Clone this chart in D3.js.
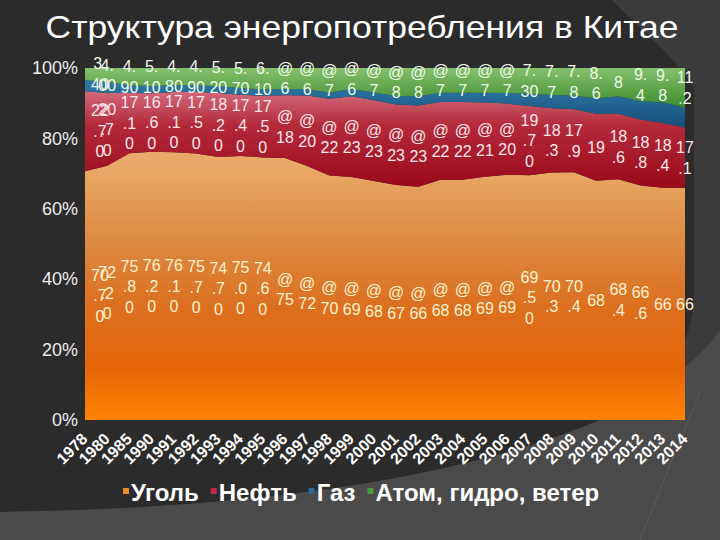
<!DOCTYPE html>
<html>
<head>
<meta charset="utf-8">
<script src="https://cdn.jsdelivr.net/npm/d3@7"></script>
<style>
  body { margin: 0; background: #2b2b2b; }
  svg { display: block; font-family: "Liberation Sans", Arial, sans-serif; }
</style>
</head>
<body>
<div id="chart"></div>
<script>
// Data
const years = ["1978", "1980", "1985", "1990", "1991", "1992", "1993", "1994", "1995", "1996",
  "1997", "1998", "1999", "2000", "2001", "2002", "2003", "2004", "2005", "2006",
  "2007", "2008", "2009", "2010", "2011", "2012", "2013", "2014"]
const coal = [70.7, 72.2, 75.8, 76.2, 76.1, 75.7, 74.7, 75.0, 74.6, 75,
  72, 70, 69, 68, 67, 66, 68, 68, 69, 69,
  69.5, 70.3, 70.4, 68, 68.4, 66.6, 66, 66]
const oil = [22.7, 20.7, 17.1, 16.6, 17.1, 17.5, 18.2, 17.4, 17.5, 18,
  20, 22, 23, 23, 23, 23, 22, 22, 21, 20,
  19.7, 18.3, 17.9, 19, 18.6, 18.8, 18.4, 17.1]
const gas = [3.2, 3.1, 2.2, 2.1, 2.0, 1.9, 1.9, 1.9, 1.8, 1.8,
  1.8, 1.8, 2.0, 2.2, 2.4, 2.6, 2.6, 2.6, 2.8, 3.0,
  3.5, 3.7, 3.9, 4.4, 5.0, 5.2, 5.8, 5.7]
const hydro = [3.4, 4.0, 4.9, 5.1, 4.8, 4.9, 5.2, 5.7, 6.1, 6,
  6, 7, 6, 7, 8, 8, 7, 7, 7, 7,
  7.3, 7.7, 7.8, 8.6, 8, 9.4, 9.8, 11.2]
// how the data labels of each year are written in the picture
const labelKind = ["f2", "f2", "f2", "f2", "f2", "f2", "f2", "f2", "f2",
  "at", "at", "at", "at", "at", "at", "at", "at", "at", "at", "at",
  "f2", "g", "g", "g", "g", "g", "g", "g"]
const seriesKeys = ["coal", "oil", "gas", "hydro"]
const seriesNames = ["Уголь", "Нефть", "Газ", "Атом, гидро, ветер"]
const yTicks = [0, 0.2, 0.4, 0.6, 0.8, 1]
const title = "Структура энергопотребления в Китае"

const table = years.map((y, i) => ({
  year: y, coal: coal[i], oil: oil[i], gas: gas[i], hydro: hydro[i], kind: labelKind[i]
}))

// Dimensions
const dimensions = {
  width: 720,
  height: 540,
  left: 85,
  right: 685,
  top: 68,
  bottom: 420,
}

const svg = d3.select('#chart')
  .append('svg')
  .attr('width', dimensions.width)
  .attr('height', dimensions.height)

// Background (presentation theme)
svg.append('rect')
  .attr('width', dimensions.width)
  .attr('height', dimensions.height)
  .attr('fill', '#2b2b2b')

svg.append('path')
  .attr('d', 'M612,0 L720,0 L720,540 L0,540 L0,512 C250,508 450,482 600,420 C650,398 690,360 694,300 L694,90 C680,60 640,30 612,0 Z')
  .attr('fill', '#3b3b3b')

svg.append('path')
  .attr('d', 'M0,512 C250,508 450,482 600,420 C650,398 700,360 720,330 L720,540 L0,540 Z')
  .attr('fill', '#4a4a4a')

svg.append('path')
  .attr('d', 'M700,392 C680,440 660,490 640,540')
  .attr('fill', 'none')
  .attr('stroke', '#5a5a5a')
  .attr('stroke-width', 1)

// Gradients
const defs = svg.append('defs')
const gradients = {
  coal: { user: true, y1: 165, y2: 420, stops: [[0, '#eaa968'], [0.3, '#dc8a42'], [0.55, '#dc7020'], [0.8, '#e66608'], [1, '#ff8400']] },
  oil: { stops: [[0, '#d26a7a'], [0.35, '#b42a3a'], [1, '#990a1a']] },
  gas: { stops: [[0, '#2f7aa6'], [1, '#14507a']] },
  hydro: { stops: [[0, '#86c06c'], [1, '#3c8a2e']] },
}
Object.entries(gradients).forEach(([key, g]) => {
  const lg = defs.append('linearGradient')
    .attr('id', 'grad-' + key)
    .attr('x1', 0).attr('x2', 0)
  if (g.user) {
    lg.attr('gradientUnits', 'userSpaceOnUse').attr('y1', g.y1).attr('y2', g.y2)
  } else {
    lg.attr('y1', 0).attr('y2', 1)
  }
  g.stops.forEach(s => lg.append('stop').attr('offset', s[0]).attr('stop-color', s[1]))
})

// Scales
const xScale = d3.scalePoint()
  .domain(years)
  .range([dimensions.left, dimensions.right])

const yScale = d3.scaleLinear()
  .domain([0, 1])
  .range([dimensions.bottom, dimensions.top])

// Stack
const stack = d3.stack()
  .keys(seriesKeys)
  .offset(d3.stackOffsetExpand)
const series = stack(table)

const areaGenerator = d3.area()
  .x(d => xScale(d.data.year))
  .y0(d => yScale(d[0]))
  .y1(d => yScale(d[1]))

svg.append('g')
  .selectAll('path')
  .data(series)
  .join('path')
  .attr('d', areaGenerator)
  .attr('fill', d => `url(#grad-${d.key})`)

// Axes
const yAxis = d3.axisLeft(yScale)
  .tickValues(yTicks)
  .tickFormat(d3.format('.0%'))
  .tickSize(0)
  .tickPadding(7)

const yAxisGroup = svg.append('g')
  .attr('transform', `translate(${dimensions.left}, 0)`)
  .call(yAxis)
yAxisGroup.select('.domain').remove()
yAxisGroup.selectAll('text')
  .attr('fill', '#ececec')
  .style('font-size', '18px')
  .style('font-family', '"Liberation Sans", Arial, sans-serif')

const xAxis = d3.axisBottom(xScale).tickSize(0)
const xAxisGroup = svg.append('g')
  .attr('transform', `translate(0, ${dimensions.bottom})`)
  .call(xAxis)
xAxisGroup.select('.domain').remove()
xAxisGroup.selectAll('text')
  .attr('fill', '#ffffff')
  .attr('text-anchor', 'end')
  .attr('x', 0)
  .attr('y', 0)
  .attr('dy', 0)
  .attr('transform', 'translate(3, 20) rotate(-45)')
  .style('font-size', '16px')
  .style('font-weight', 'bold')
  .style('font-family', '"Liberation Sans", Arial, sans-serif')

// Data labels (wrapped narrow like the original)
const labelFont = '16px "Liberation Sans", Arial, sans-serif'
const ctx = document.createElement('canvas').getContext('2d')
ctx.font = labelFont
const maxLine = ctx.measureText('00').width + 1

function labelText(v, kind) {
  if (kind === 'f2') return d3.format('.2f')(v)
  if (kind === 'at') return '@' + Math.round(v)
  return String(v)
}

function wrap(str) {
  const lines = []
  let cur = ''
  for (const ch of str) {
    if (cur && ctx.measureText(cur + ch).width > maxLine) {
      lines.push(cur)
      cur = ch
    } else {
      cur += ch
    }
  }
  if (cur) lines.push(cur)
  return lines
}

const labelColors = { coal: '#fff3d0', oil: '#ffe8ee', hydro: '#eefaea' }
const lineHeight = 20.5

const labelGroup = svg.append('g')
  .style('font', labelFont)

series.filter(s => s.key !== 'gas').forEach(s => {
  s.forEach(d => {
    const lines = wrap(labelText(d.data[s.key], d.data.kind))
    const w = d3.max(lines, l => ctx.measureText(l).width)
    const cx = Math.max(xScale(d.data.year), dimensions.left + w / 2 + 6)
    const cy = yScale((d[0] + d[1]) / 2)
    const t = labelGroup.append('text')
      .attr('text-anchor', 'middle')
      .attr('fill', labelColors[s.key])
    lines.forEach((l, i) => {
      t.append('tspan')
        .attr('x', cx)
        .attr('y', cy + (i - (lines.length - 1) / 2) * lineHeight)
        .attr('dy', '0.36em')
        .text(l)
    })
  })
})

// Title
svg.append('text')
  .attr('x', 362)
  .attr('y', 38)
  .attr('text-anchor', 'middle')
  .attr('fill', '#ffffff')
  .attr('textLength', 633)
  .attr('lengthAdjust', 'spacingAndGlyphs')
  .style('font-size', '32px')
  .text(title)

// Legend
const legendColors = ['#ec8a2a', '#c02848', '#2a6a8e', '#4e9a40']
const legend = svg.append('g')
let lx = 123
seriesNames.forEach((name, i) => {
  legend.append('rect')
    .attr('x', lx)
    .attr('y', 488)
    .attr('width', 6)
    .attr('height', 6)
    .attr('fill', legendColors[i])
  const txt = legend.append('text')
    .attr('x', lx + 8)
    .attr('y', 501)
    .attr('fill', '#ffffff')
    .style('font-size', '24px')
    .style('font-weight', 'bold')
    .text(name)
  lx += 8 + txt.node().getComputedTextLength() + 12
})
</script>
</body>
</html>
